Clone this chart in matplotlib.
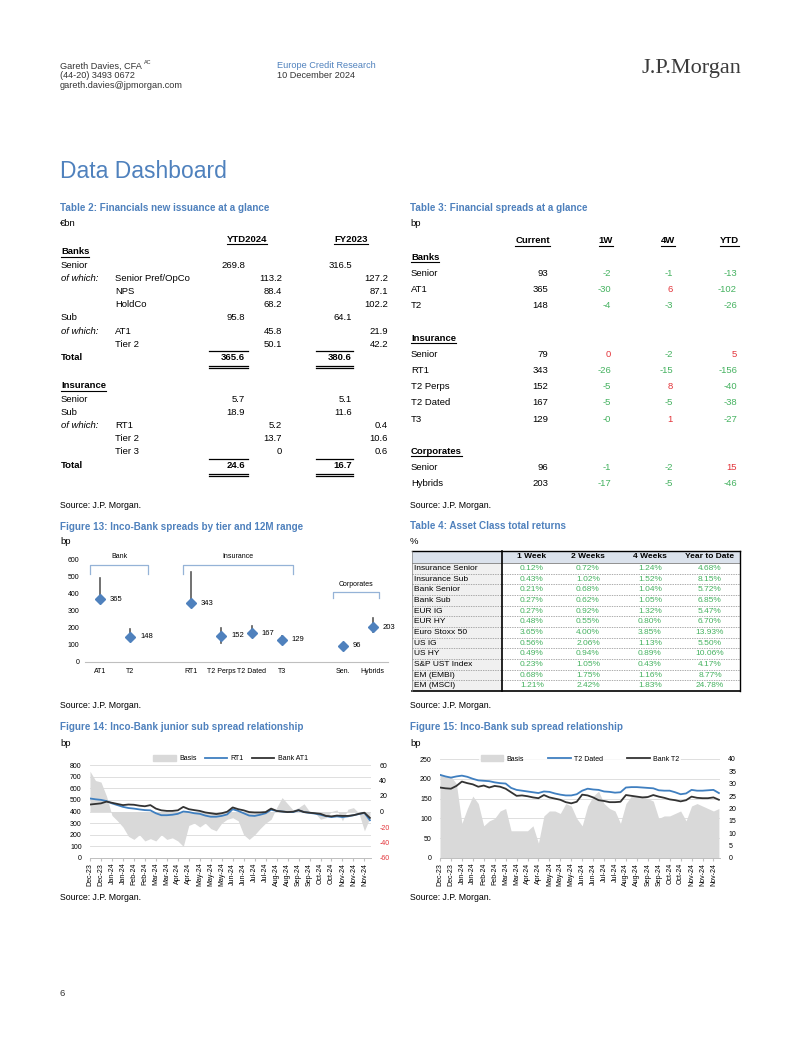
import matplotlib
matplotlib.use("Agg")
import matplotlib.pyplot as plt
from matplotlib.lines import Line2D
from matplotlib.patches import Patch, Rectangle

# ==========================================
# DATA
# ==========================================
# Table 2: Financials new issuance (EUR bn)
t2_bank_labels = ["Senior", "of which:", "", "", "Sub", "of which:", "", "Total"]
t2_bank_sub = ["", "Senior Pref/OpCo", "NPS", "HoldCo", "", "AT1", "Tier 2", ""]
t2_bank_ytd = ["269.8", "113.2", "88.4", "68.2", "95.8", "45.8", "50.1", "365.6"]
t2_bank_fy = ["316.5", "127.2", "87.1", "102.2", "64.1", "21.9", "42.2", "380.6"]
t2_ins_labels = ["Senior", "Sub", "of which:", "", "", "Total"]
t2_ins_sub = ["", "", "RT1", "Tier 2", "Tier 3", ""]
t2_ins_ytd = ["5.7", "18.9", "5.2", "13.7", "0", "24.6"]
t2_ins_fy = ["5.1", "11.6", "0.4", "10.6", "0.6", "16.7"]

# Table 3: Financial spreads (bp)
t3_cols = ["Current", "1W", "4W", "YTD"]
t3_sections = ["Banks", "Insurance", "Corporates"]
t3_names = [["Senior", "AT1", "T2"],
            ["Senior", "RT1", "T2 Perps", "T2 Dated", "T3"],
            ["Senior", "Hybrids"]]
t3_current = [["93", "365", "148"], ["79", "343", "152", "167", "129"], ["96", "203"]]
t3_1w = [["-2", "-30", "-4"], ["0", "-26", "-5", "-5", "-0"], ["-1", "-17"]]
t3_4w = [["-1", "6", "-3"], ["-2", "-15", "8", "-5", "1"], ["-2", "-5"]]
t3_ytd = [["-13", "-102", "-26"], ["5", "-156", "-40", "-38", "-27"], ["15", "-46"]]

# Figure 13: spreads and 12M range
f13_cats = ["AT1", "T2", "", "RT1", "T2 Perps", "T2 Dated", "T3", "", "Sen.", "Hybrids"]
f13_cur = [365, 148, None, 343, 152, 167, 129, None, 96, 203]
f13_high = [488, 192, None, 523, 198, 207, 154, None, 112, 258]
f13_low = [365, 140, None, 343, 112, 160, 118, None, 68, 173]

# Table 4: Asset class total returns
t4_cols = ["1 Week", "2 Weeks", "4 Weeks", "Year to Date"]
t4_rows = ["Insurance Senior", "Insurance Sub", "Bank Senior", "Bank Sub", "EUR IG", "EUR HY",
           "Euro Stoxx 50", "US IG", "US HY", "S&P UST Index", "EM (EMBI)", "EM (MSCI)"]
t4_1w = ["0.12%", "0.43%", "0.21%", "0.27%", "0.27%", "0.48%", "3.65%", "0.56%", "0.49%", "0.23%", "0.68%", "1.21%"]
t4_2w = ["0.72%", "1.02%", "0.68%", "0.62%", "0.92%", "0.55%", "4.00%", "2.06%", "0.94%", "1.05%", "1.75%", "2.42%"]
t4_4w = ["1.24%", "1.52%", "1.04%", "1.05%", "1.32%", "0.80%", "3.85%", "1.13%", "0.89%", "0.43%", "1.16%", "1.83%"]
t4_ytd = ["4.68%", "8.15%", "5.72%", "6.85%", "5.47%", "6.70%", "13.93%", "5.50%", "10.06%", "4.17%", "8.77%", "24.78%"]

# Figures 14/15: weekly readings, Dec-23 to Dec-24
date_ticks = ["Dec-23", "Dec-23", "Jan-24", "Jan-24", "Feb-24", "Feb-24", "Mar-24", "Mar-24",
              "Apr-24", "Apr-24", "May-24", "May-24", "May-24", "Jun-24", "Jun-24", "Jul-24",
              "Jul-24", "Aug-24", "Aug-24", "Sep-24", "Sep-24", "Oct-24", "Oct-24", "Nov-24",
              "Nov-24", "Nov-24"]
f14_rt1 = [512, 505, 500, 490, 470, 455, 440, 430, 425, 418, 412, 410, 385, 368, 368, 372, 380, 400,
           395, 385, 380, 365, 355, 355, 362, 375, 420, 405, 385, 365, 362, 372, 385, 415, 405, 400,
           395, 395, 410, 395, 388, 382, 372, 360, 352, 358, 352, 358, 368, 378, 388, 325]
f14_at1 = [460, 465, 470, 485, 475, 465, 455, 460, 458, 450, 445, 455, 425, 410, 405, 405, 410, 440,
           420, 412, 405, 392, 385, 378, 385, 398, 435, 420, 410, 395, 392, 392, 395, 425, 405, 400,
           395, 398, 412, 395, 390, 385, 380, 362, 358, 365, 362, 362, 368, 380, 390, 345]
f14_basis = [52, 40, 38, 20, -5, -12, -20, -32, -36, -30, -38, -35, -38, -30, -36, -34, -38, -45,
             -18, -15, -20, -15, -22, -25, -15, -10, -8, -12, -30, -36, -30, -22, -15, -10, 5, 18,
             10, 2, 5, 10, 0, -2, -10, -8, 0, 2, -12, 3, 5, -2, -25, -8]
f15_t2d = [210, 206, 203, 206, 208, 205, 200, 196, 195, 194, 191, 189, 188, 177, 172, 170, 168, 166,
           164, 168, 167, 163, 160, 158, 158, 161, 170, 175, 173, 172, 168, 167, 165, 166, 178, 179,
           179, 178, 177, 176, 171, 170, 170, 166, 161, 163, 172, 170, 170, 171, 172, 164]
f15_t2 = [178, 176, 175, 182, 193, 189, 186, 180, 183, 178, 182, 180, 175, 166, 157, 158, 156, 153,
          151, 159, 153, 150, 147, 141, 138, 142, 160, 158, 153, 146, 144, 141, 141, 142, 159, 157,
          155, 153, 154, 159, 155, 152, 148, 146, 143, 146, 155, 152, 151, 151, 153, 147]
f15_basis = [34, 33, 33, 30, 14, 20, 25, 22, 13, 15, 16, 19, 20, 11, 11, 11, 11, 13, 6, 17, 19, 19,
             18, 22, 21, 16, 13, 21, 25, 27, 22, 20, 19, 14, 22, 25, 25, 25, 24, 23, 16, 17, 17, 18,
             19, 15, 21, 22, 21, 20, 19, 20]

# ==========================================
# STYLE / HELPERS (page laid out in pixels)
# ==========================================
W, H = 802, 1037
BLUE = "#4f81bd"
LINE_BLUE = "#3f7fc0"
DARK = "#333333"
GREEN = "#45b260"
RED = "#e3343a"
GREY_FILL = "#d9d9d9"
BODY = 6.8

plt.rcParams["font.family"] = ["Liberation Sans", "DejaVu Sans"]
plt.rcParams["axes.unicode_minus"] = False
fig = plt.figure(figsize=(W / 100, H / 100), dpi=100)


def fx(x):
    return x / W


def fy(y):
    return 1 - y / H


def txt(x, y, s, size=BODY, **kw):
    kw.setdefault("va", "center")
    return fig.text(fx(x), fy(y), s, fontsize=size, **kw)


def hline(x0, x1, y, lw=0.8, color="black", **kw):
    fig.add_artist(Line2D([fx(x0), fx(x1)], [fy(y), fy(y)], transform=fig.transFigure,
                          lw=lw, color=color, **kw))


def vline(x, y0, y1, lw=0.8, color="black"):
    fig.add_artist(Line2D([fx(x), fx(x)], [fy(y0), fy(y1)], transform=fig.transFigure,
                          lw=lw, color=color))


def rect(x0, y0, x1, y1, color):
    fig.add_artist(Rectangle((fx(x0), fy(y1)), (x1 - x0) / W, (y1 - y0) / H,
                             transform=fig.transFigure, color=color, lw=0, zorder=0))


def axes_px(l, t, r, b):
    return fig.add_axes([fx(l), fy(b), (r - l) / W, (b - t) / H])


def title(x, y, s):
    txt(x, y, s, size=7.1, color=BLUE, fontweight="bold")


underlined = []

# ==========================================
# HEADER
# ==========================================
author = txt(60, 66, "Gareth Davies, CFA", size=6.6, color=DARK)
txt(60, 76, "(44-20) 3493 0672", size=6.6, color=DARK)
txt(60, 86, "gareth.davies@jpmorgan.com", size=6.6, color=DARK)
txt(277, 66, "Europe Credit Research", size=6.6, color=BLUE)
txt(277, 76, "10 December 2024", size=6.6, color=DARK)
txt(741, 68, "J.P.Morgan", size=16, ha="right", color="#3b3b3b",
    family=["Liberation Serif", "DejaVu Serif"])
txt(60, 172, "Data Dashboard", size=16.5, color=BLUE)
txt(60, 993, "6", size=6.8, color=DARK)

# ==========================================
# TABLE 2
# ==========================================
title(60, 208, "Table 2: Financials new issuance at a glance")
txt(60, 224, "€bn")
underlined.append(txt(247, 239, "YTD2024", ha="center", fontweight="bold"))
underlined.append(txt(351, 239, "FY2023", ha="center", fontweight="bold"))


def issuance_block(y0, head, labels, subs, ytd, fy_vals):
    underlined.append(txt(61, y0, head, fontweight="bold"))
    step = 13.2
    for i, lab in enumerate(labels):
        y = y0 + step * (i + 1)
        is_sub = subs[i] != ""
        is_total = lab == "Total"
        w = "bold" if is_total else "normal"
        if lab:
            txt(61, y, lab, fontweight=w, style="italic" if lab == "of which:" else "normal")
        if is_sub:
            txt(115, y, subs[i])
        txt(282 if is_sub else 245, y, ytd[i], ha="right", fontweight=w)
        txt(388 if is_sub else 352, y, fy_vals[i], ha="right", fontweight=w)
        if is_total:
            for a, b in [(209, 248), (316, 353)]:
                hline(a, b, y - 6.5, lw=0.9)
                hline(a, b, y + 8.5, lw=0.9)
                hline(a, b, y + 10.5, lw=0.9)


issuance_block(252, "Banks", t2_bank_labels, t2_bank_sub, t2_bank_ytd, t2_bank_fy)
issuance_block(386, "Insurance", t2_ins_labels, t2_ins_sub, t2_ins_ytd, t2_ins_fy)
txt(60, 505, "Source: J.P. Morgan.", size=6.3)

# ==========================================
# TABLE 3
# ==========================================
title(410, 208, "Table 3: Financial spreads at a glance")
txt(410, 224, "bp")
col_right = [548, 611, 673, 737]
for c, xr in zip(t3_cols, col_right):
    underlined.append(txt(xr + 2, 241, c, ha="right", fontweight="bold"))
k = 0
for s, sec in enumerate(t3_sections):
    underlined.append(txt(411, 257 + 16.2 * k, sec, fontweight="bold"))
    k += 1
    for j, name in enumerate(t3_names[s]):
        y = 257 + 16.2 * k
        txt(411, y, name)
        txt(col_right[0], y, t3_current[s][j], ha="right")
        for xr, vals in zip(col_right[1:], [t3_1w, t3_4w, t3_ytd]):
            v = vals[s][j]
            txt(xr, y, v, ha="right", color=GREEN if v.startswith("-") else RED)
        k += 1
    k += 1
txt(410, 505, "Source: J.P. Morgan.", size=6.3)

# ==========================================
# FIGURE 13
# ==========================================
title(60, 527, "Figure 13: Inco-Bank spreads by tier and 12M range")
txt(60, 542, "bp")
ax13 = axes_px(85, 559, 388, 662)
for i, cur in enumerate(f13_cur):
    if cur is None:
        continue
    ax13.plot([i, i], [f13_low[i], f13_high[i]], color="#595959", lw=1.2, zorder=2)
    ax13.plot(i, cur, marker="D", ms=5, color=BLUE, zorder=3)
    ax13.text(i + 0.32, cur, str(cur), va="center", fontsize=5.5)
brackets = [("Bank", -0.33, 1.59, 566, 512, 612),
            ("Insurance", 2.75, 6.36, 566, 512, 612),
            ("Corporates", 7.68, 9.2, 410, 371, 449)]
for name, a, b, top, bot, ly in brackets:
    ax13.plot([a, a, b, b], [bot, top, top, bot], color="#95b3d7", lw=0.9, clip_on=False)
    ax13.text((a + b) / 2, ly, name, ha="center", va="center", fontsize=5)
ax13.set_xlim(-0.5, 9.5)
ax13.set_ylim(0, 600)
ax13.set_yticks(range(0, 601, 100))
ax13.set_xticks(range(len(f13_cats)))
ax13.set_xticklabels(f13_cats)
ax13.tick_params(length=0, labelsize=5, pad=4)
for sp in ["top", "right", "left"]:
    ax13.spines[sp].set_visible(False)
ax13.spines["bottom"].set_color("#bfbfbf")
ax13.spines["bottom"].set_linewidth(0.8)
txt(60, 705, "Source: J.P. Morgan.", size=6.3)

# ==========================================
# TABLE 4
# ==========================================
title(410, 526, "Table 4: Asset Class total returns")
txt(410, 541, "%")
t_left, t_right, t_sep = 412, 740, 502
row_h = 10.67
hdr_top, hdr_bot = 551, 563
bottom = hdr_bot + row_h * len(t4_rows)
rect(t_left, hdr_top, t_right, hdr_bot, "#dbe2ec")
rect(t_left, hdr_bot, t_sep, bottom, "#f0f0f0")
col_c = [532, 588, 650, 710]
for c, xc in zip(t4_cols, col_c):
    txt(xc, 557, c, size=6, ha="center", fontweight="bold")
for i, name in enumerate(t4_rows):
    y = hdr_bot + row_h * (i + 0.5)
    txt(414, y, name, size=6)
    for xc, vals in zip(col_c, [t4_1w, t4_2w, t4_4w, t4_ytd]):
        txt(xc, y, vals[i], size=6, ha="center", color=GREEN)
    if i < len(t4_rows) - 1:
        hline(t_left, t_right, hdr_bot + row_h * (i + 1), lw=0.5, color="#8c8c8c",
              linestyle=(0, (2, 1.5)))
hline(t_left, t_right, hdr_top, lw=1.0)
hline(t_left, t_right, hdr_bot, lw=0.6, color="#7f7f7f")
hline(t_left, t_right, bottom, lw=1.2)
vline(t_sep, hdr_top, bottom, lw=1.2)
vline(t_right, hdr_top, bottom, lw=1.0)
vline(t_left, hdr_top, bottom, lw=0.5, color="#7f7f7f")
txt(410, 705, "Source: J.P. Morgan.", size=6.3)


# ==========================================
# FIGURES 14 / 15
# ==========================================
def spread_panel(box, basis, blue, dark, names, lticks, rticks, red_neg, leg_dy, colspace):
    ax = axes_px(*box)
    axr = ax.twinx()
    x = list(range(len(blue)))
    lo, hi = lticks[0], lticks[-1]
    rlo, rhi = rticks[0], rticks[-1]
    for v in lticks:
        axr.axhline(rlo + (v - lo) / (hi - lo) * (rhi - rlo), color="#d9d9d9", lw=0.6, zorder=0)
    axr.fill_between(x, 0, basis, color=GREY_FILL, lw=0, zorder=1)
    ax.plot(x, blue, color=LINE_BLUE, lw=1.3)
    ax.plot(x, dark, color=DARK, lw=1.3)
    ax.set_zorder(axr.get_zorder() + 1)
    ax.patch.set_visible(False)
    ax.set_xlim(0, 51.2)
    ax.set_ylim(lo, hi)
    ax.set_yticks(lticks)
    axr.set_ylim(rlo, rhi)
    axr.set_yticks(rticks)
    ax.set_xticks(range(0, 2 * len(date_ticks), 2))
    ax.set_xticklabels(date_ticks, rotation=90)
    ax.tick_params(axis="x", length=2, color="#bfbfbf", labelsize=5, pad=1.5)
    ax.tick_params(axis="y", length=0, labelsize=5, pad=6)
    axr.tick_params(axis="y", length=0, labelsize=5, pad=6)
    if red_neg:
        for lab, v in zip(axr.get_yticklabels(), rticks):
            if v < 0:
                lab.set_color(RED)
    for a in (ax, axr):
        for sp in ["top", "right", "left"]:
            a.spines[sp].set_visible(False)
        a.spines["bottom"].set_color("#bfbfbf")
        a.spines["bottom"].set_linewidth(0.6)
    handles = [Patch(color=GREY_FILL), Line2D([], [], color=LINE_BLUE, lw=1.3),
               Line2D([], [], color=DARK, lw=1.3)]
    leg = ax.legend(handles, names, loc="center", bbox_to_anchor=(0.5, 1 + leg_dy), ncol=3,
                    fontsize=5, frameon=True, handlelength=3.2, handleheight=0.8,
                    columnspacing=colspace, handletextpad=0.5, borderpad=0.2)
    leg.get_frame().set_facecolor("white")
    leg.get_frame().set_linewidth(0)


title(60, 727, "Figure 14: Inco-Bank junior sub spread relationship")
txt(60, 743, "bp")
spread_panel((90, 765, 371, 858), f14_basis, f14_rt1, f14_at1, ["Basis", "RT1", "Bank AT1"],
             list(range(0, 801, 100)), list(range(-60, 61, 20)), True, 0.065, 1.2)
txt(60, 897, "Source: J.P. Morgan.", size=6.3)

title(410, 727, "Figure 15: Inco-Bank sub spread relationship")
txt(410, 743, "bp")
spread_panel((440, 759, 720, 858), f15_basis, f15_t2d, f15_t2, ["Basis", "T2 Dated", "Bank T2"],
             list(range(0, 251, 50)), list(range(0, 41, 5)), False, 0.0, 3.5)
txt(410, 897, "Source: J.P. Morgan.", size=6.3)

# ==========================================
# UNDERLINES AND SUPERSCRIPT (need rendered text extents)
# ==========================================
fig.canvas.draw()
renderer = fig.canvas.get_renderer()
for t in underlined:
    bb = t.get_window_extent(renderer)
    yy = (bb.y0 - 0.5) / H
    fig.add_artist(Line2D([bb.x0 / W, bb.x1 / W], [yy, yy], transform=fig.transFigure,
                          lw=0.8, color="black"))
bb = author.get_window_extent(renderer)
fig.text((bb.x1 + 2) / W, fy(63), "AC", fontsize=4, va="center", color=DARK)

fig.savefig("out.png", dpi=100, facecolor="white")
